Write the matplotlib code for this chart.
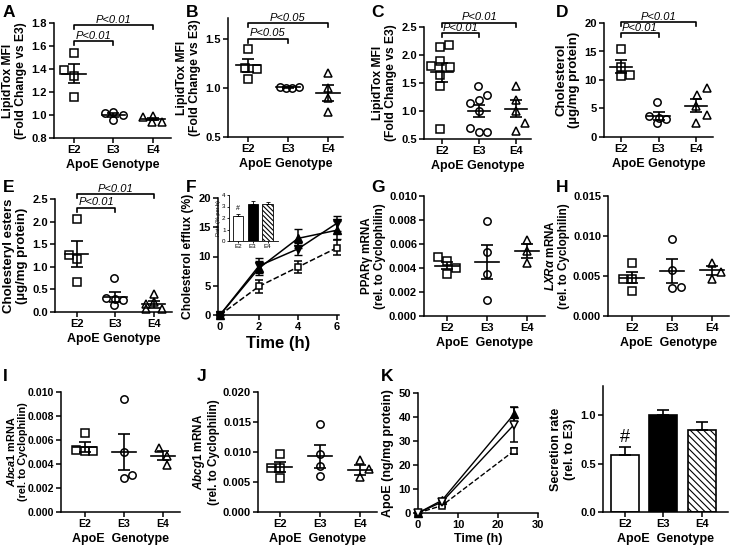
import numpy as np
import matplotlib
matplotlib.use("Agg")
import matplotlib.pyplot as plt

plt.rcParams['font.family'] = ['Liberation Sans', 'DejaVu Sans']
plt.rcParams['font.weight'] = 'bold'
plt.rcParams['axes.labelweight'] = 'bold'
plt.rcParams['mathtext.fontset'] = 'custom'
plt.rcParams['mathtext.rm'] = 'Liberation Sans:bold'
plt.rcParams['mathtext.it'] = 'Liberation Sans:italic'
plt.rcParams['hatch.linewidth'] = 0.8

genotypes = ["E2", "E3", "E4"]

# A - LipidTox MFI
a_e2 = [1.54, 1.39, 1.34, 1.16]
a_e3 = [1.02, 1.03, 0.96, 1.00]
a_e4 = [0.98, 0.99, 0.935, 0.935]
a_mean = [1.36, 1.00, 0.965]
a_sem = [0.08, 0.015, 0.012]

# B - LipidTox MFI
b_e2 = [1.39, 1.20, 1.19, 1.09]
b_e3 = [1.01, 1.00, 1.00, 1.01]
b_e4 = [1.15, 1.00, 0.90, 0.75]
b_mean = [1.23, 1.005, 0.95]
b_sem = [0.065, 0.006, 0.08]

# C - LipidTox MFI
c_e2 = [2.15, 2.17, 1.80, 1.90, 1.78, 1.65, 1.45, 0.67]
c_e3 = [1.44, 1.29, 1.20, 1.15, 1.00, 0.70, 0.63, 0.63]
c_e4 = [1.45, 1.20, 1.00, 0.78, 0.65]
c_mean = [1.69, 1.00, 1.04]
c_sem = [0.165, 0.11, 0.15]

# D - Cholesterol
d_e2 = [15.4, 12.2, 10.7, 10.8]
d_e3 = [6.2, 3.6, 3.4, 3.2, 2.4]
d_e4 = [7.3, 8.6, 5.5, 3.8, 2.5]
d_mean = [12.3, 3.7, 5.5]
d_sem = [1.15, 0.65, 1.15]

# E - Cholesteryl esters
e_e2 = [2.05, 1.27, 1.18, 0.67]
e_e3 = [0.75, 0.30, 0.28, 0.27, 0.15]
e_e4 = [0.40, 0.18, 0.22, 0.07, 0.07]
e_mean = [1.28, 0.34, 0.17]
e_sem = [0.28, 0.11, 0.08]

# F - cholesterol efflux time course
f_time = [0, 2, 4, 6]
f_e2 = [0, 4.9, 8.2, 11.5]
f_e2_err = [0, 1.1, 1.1, 1.3]
f_e3 = [0, 8.0, 13.1, 14.5]
f_e3_err = [0, 1.2, 1.6, 1.5]
f_e4 = [0, 8.4, 11.3, 15.7]
f_e4_err = [0, 1.3, 1.0, 1.3]
f_rate = [2.15, 3.25, 3.2]
f_rate_err = [0.2, 0.25, 0.2]

# G - PPARg
g_e2 = [0.0049, 0.0046, 0.0040, 0.0035]
g_e3 = [0.0079, 0.0053, 0.0035, 0.0013]
g_e4 = [0.0063, 0.0054, 0.0044]
g_mean = [0.0042, 0.0045, 0.0054]
g_sem = [0.0003, 0.0014, 0.0006]

# H - LXRa
h_e2 = [0.0066, 0.0046, 0.0046, 0.0031]
h_e3 = [0.0096, 0.0058, 0.0035, 0.0036]
h_e4 = [0.0066, 0.0055, 0.0046]
h_mean = [0.0048, 0.0056, 0.0057]
h_sem = [0.0007, 0.0015, 0.0006]

# I - Abca1
i_e2 = [0.0066, 0.0052, 0.0051, 0.0051]
i_e3 = [0.0094, 0.0050, 0.0031, 0.0028]
i_e4 = [0.0053, 0.0047, 0.0039]
i_mean = [0.0054, 0.0050, 0.0047]
i_sem = [0.0004, 0.0015, 0.0004]

# J - Abcg1
j_e2 = [0.0096, 0.0074, 0.0074, 0.0057]
j_e3 = [0.0146, 0.0096, 0.0076, 0.0060]
j_e4 = [0.0086, 0.0071, 0.0058]
j_mean = [0.0075, 0.0093, 0.0070]
j_sem = [0.0008, 0.0019, 0.0009]

# K - ApoE secretion time course
k_time = [0, 6, 24]
k_e2 = [0, 3.1, 25.9]
k_e2_err = [0, 0.5, 1.2]
k_e3 = [0, 5.3, 41.2]
k_e3_err = [0, 0.8, 3.0]
k_e4 = [0, 4.6, 36.8]
k_e4_err = [0, 0.8, 7.4]

# L - secretion rate
l_mean = [0.59, 1.0, 0.85]
l_sem = [0.08, 0.05, 0.075]

# horizontal scatter of the dots (layout only)
a_dx = [[0, -0.24, 0, 0], [-0.22, 0, 0, 0.24], [-0.26, 0, -0.04, 0.22]]
b_dx = [[0, -0.08, 0.22, 0], [-0.2, -0.05, 0.1, 0.27], [0, 0, 0, 0]]
c_dx = [[-0.05, 0.18, -0.29, -0.05, 0.2, -0.05, -0.05, -0.05],
        [-0.03, 0.22, 0, -0.24, 0, -0.24, 0, 0.22], [0, 0, 0, 0.23, 0]]
d_dx = [[0, 0, 0, 0.25], [-0.05, -0.25, 0, 0.2, -0.05], [0.03, 0.3, 0, 0.3, 0]]
e_dx = [[0, -0.2, 0, 0], [-0.05, -0.25, 0, 0.2, -0.05], [0, -0.2, 0, -0.2, 0.22]]
g_dx = [[-0.21, 0, 0.23, 0], [0, 0, 0, 0], [0, 0, 0]]
h_dx = [[0, -0.22, 0, 0], [0, 0, 0, 0.22], [0, 0.22, 0]]
i_dx = [[0, -0.22, 0, 0.22], [0, 0, 0.22, 0], [-0.1, 0.1, 0.1]]
j_dx = [[0, -0.22, 0, 0], [0, 0, 0, 0], [0, 0.22, 0]]

W, H = 737, 547
fig = plt.figure(figsize=(W / 100, H / 100), dpi=100)


def add_ax(l, t, r, b):
    return fig.add_axes([l / W, 1 - b / H, (r - l) / W, (b - t) / H])


def style(ax, size=8):
    for s in ['top', 'right']:
        ax.spines[s].set_visible(False)
    for s in ['left', 'bottom']:
        ax.spines[s].set_linewidth(1.1)
    ax.tick_params(direction='out', length=3.5, width=1.1, labelsize=size, pad=1.5)


def dot_panel(ax, groups, dx, means, sems, ylim, yticks, fmt, ylabel, xlabel="ApoE Genotype",
              ysize=8.7, ypad=3, tsize=8):
    markers = ['s', 'o', '^']
    for i, vals in enumerate(groups):
        ax.plot(i + np.array(dx[i]), vals, linestyle='none', marker=markers[i], ms=5.3,
                mfc='none', mec='black', mew=1.1, clip_on=False, zorder=3)
        ax.plot([i - 0.3, i + 0.3], [means[i], means[i]], color='black', lw=1.2, zorder=4)
        ax.errorbar(i, means[i], yerr=sems[i], fmt='none', ecolor='black', elinewidth=1.2,
                    capsize=4.2, capthick=1.2, zorder=4)
    ax.set_ylim(*ylim)
    ax.set_yticks(yticks)
    ax.set_yticklabels([fmt % v for v in yticks])
    ax.set_xticks(range(3))
    ax.set_xticklabels(genotypes)
    ax.set_ylabel(ylabel, fontsize=ysize, labelpad=ypad, linespacing=1.1)
    ax.set_xlabel(xlabel, fontsize=9, labelpad=3)
    style(ax, tsize)


def bracket(ax, x1, x2, y, text):
    y0, y1 = ax.get_ylim()
    hpx = ax.get_position().height * H
    tick = (y1 - y0) * 4 / hpx
    ax.plot([x1, x1, x2, x2], [y - tick, y, y, y - tick], color='black', lw=1.2, clip_on=False)
    ax.annotate(text, xy=((x1 + x2) / 2, y), xytext=(0, 0.3), textcoords='offset points',
                ha='center', va='bottom', fontsize=8, style='italic', weight='normal',
                annotation_clip=False)


def bar_panel(ax, means, sems, width, hatch, capsize, lw):
    colors = ['white', 'black', 'white']
    hatches = ['', '', hatch]
    for i in range(3):
        ax.bar(i, means[i], width=width, color=colors[i], edgecolor='black', linewidth=lw,
               hatch=hatches[i], zorder=2)
        ax.errorbar(i, means[i], yerr=[[0], [sems[i]]], fmt='none', ecolor='black',
                    elinewidth=lw, capsize=capsize, capthick=lw, zorder=3)


# ---- A
ax = add_ax(54, 23, 171, 138)
ax.set_xlim(-0.5, 2.45)
dot_panel(ax, [a_e2, a_e3, a_e4], a_dx, a_mean, a_sem, (0.8, 1.8),
          [0.8, 1.0, 1.2, 1.4, 1.6, 1.8], '%.1f', "LipidTox MFI\n(Fold Change vs E3)")
bracket(ax, 0, 1, 1.64, "P<0.01")
bracket(ax, 0, 2, 1.78, "P<0.01")

# ---- B
ax = add_ax(228, 18, 343, 137)
ax.set_xlim(-0.5, 2.38)
dot_panel(ax, [b_e2, b_e3, b_e4], b_dx, b_mean, b_sem, (0.5, 1.71),
          [0.5, 1.0, 1.5], '%.1f', "LipidTox MFI\n(Fold Change vs E3)")
bracket(ax, 0, 1, 1.50, "P<0.05")
bracket(ax, 0, 2, 1.66, "P<0.05")

# ---- C
ax = add_ax(424, 27, 531, 139)
ax.set_xlim(-0.49, 2.4)
dot_panel(ax, [c_e2, c_e3, c_e4], c_dx, c_mean, c_sem, (0.5, 2.5),
          [0.5, 1.0, 1.5, 2.0, 2.5], '%.1f', "LipidTox MFI\n(Fold Change vs E3)")
bracket(ax, 0, 1, 2.39, "P<0.01")
bracket(ax, 0, 2, 2.58, "P<0.01")

# ---- D
ax = add_ax(604, 23, 713, 137)
ax.set_xlim(-0.45, 2.45)
dot_panel(ax, [d_e2, d_e3, d_e4], d_dx, d_mean, d_sem, (0, 20),
          [0, 5, 10, 15, 20], '%d', "Cholesterol\n(\u00b5g/mg protein)", ysize=9.5)
bracket(ax, 0, 1, 18.2, "P<0.01")
bracket(ax, 0, 2, 20.1, "P<0.01")

# ---- E
ax = add_ax(55, 199, 172, 312)
ax.set_xlim(-0.57, 2.47)
dot_panel(ax, [e_e2, e_e3, e_e4], e_dx, e_mean, e_sem, (0, 2.5),
          [0.0, 0.5, 1.0, 1.5, 2.0, 2.5], '%.1f', "Cholesteryl esters\n(\u00b5g/mg protein)",
          ysize=9.5)
bracket(ax, 0, 1, 2.31, "P<0.01")
bracket(ax, 0, 2, 2.61, "P<0.01")

# ---- F
ax = add_ax(218, 198, 339, 315)
ax.errorbar(f_time, f_e2, yerr=f_e2_err, color='black', lw=1.1, ls='--', marker='s', ms=5,
            mfc='white', mec='black', mew=1.1, capsize=3, elinewidth=1.1, clip_on=False, zorder=3)
ax.errorbar(f_time, f_e3, yerr=f_e3_err, color='black', lw=1.1, marker='^', ms=5.5,
            mfc='black', mec='black', capsize=3, elinewidth=1.1, clip_on=False, zorder=4)
ax.errorbar(f_time, f_e4, yerr=f_e4_err, color='black', lw=1.1, marker='v', ms=5.5,
            mfc='black', mec='black', capsize=3, elinewidth=1.1, clip_on=False, zorder=4)
ax.set_xlim(-0.1, 6.1)
ax.set_ylim(0, 20)
ax.set_xticks([0, 2, 4, 6])
ax.set_yticks([0, 5, 10, 15, 20])
ax.set_xlabel("Time (h)", fontsize=12, labelpad=3)
ax.set_ylabel("Cholesterol efflux (%)", fontsize=8.7, labelpad=3)
style(ax)

# inset of F
ax = add_ax(229, 195, 278, 241)
bar_panel(ax, f_rate, f_rate_err, 0.7, '\\\\\\\\\\\\\\', 1.5, 0.6)
ax.text(0, f_rate[0] + f_rate_err[0] + 0.15, "#", ha='center', va='bottom', fontsize=5, weight='normal')
ax.set_xlim(-0.6, 2.7)
ax.set_ylim(0, 4)
ax.set_yticks([0, 1, 2, 3, 4])
ax.set_xticks(range(3))
ax.set_xticklabels(genotypes)
ax.set_ylabel("Rate (% per h)", fontsize=4, labelpad=1, weight='normal')
for s in ['top', 'right']:
    ax.spines[s].set_visible(False)
for s in ['left', 'bottom']:
    ax.spines[s].set_linewidth(0.6)
ax.tick_params(direction='out', length=1.5, width=0.6, labelsize=4.5, pad=1)
for t in ax.get_xticklabels() + ax.get_yticklabels():
    t.set_fontweight('normal')

# ---- G
ax = add_ax(424, 196, 545, 316)
ax.set_xlim(-0.57, 2.45)
dot_panel(ax, [g_e2, g_e3, g_e4], g_dx, g_mean, g_sem, (0, 0.010),
          [0, 0.002, 0.004, 0.006, 0.008, 0.010], '%.3f',
          "PPAR\u03b3 mRNA\n(rel. to Cyclophilin)", "ApoE  Genotype", ysize=8.4, ypad=2)

# ---- H
ax = add_ax(608, 196, 729, 316)
ax.set_xlim(-0.6, 2.42)
dot_panel(ax, [h_e2, h_e3, h_e4], h_dx, h_mean, h_sem, (0, 0.015),
          [0, 0.005, 0.010, 0.015], '%.3f',
          "$\\mathit{LXR\\alpha}$ mRNA\n(rel. to Cyclophilin)", "ApoE  Genotype", ysize=8.4, ypad=2)

# ---- I
ax = add_ax(61, 392, 180, 512)
ax.set_xlim(-0.6, 2.43)
dot_panel(ax, [i_e2, i_e3, i_e4], i_dx, i_mean, i_sem, (0, 0.010),
          [0, 0.002, 0.004, 0.006, 0.008, 0.010], '%.3f',
          "$\\mathit{Abca1}$ mRNA\n(rel. to Cyclophilin)", "ApoE  Genotype", ysize=7.8, ypad=1.5,
          tsize=7.6)
ax.yaxis.set_label_coords(-0.277, 0.5)

# ---- J
ax = add_ax(258, 392, 377, 512)
ax.set_xlim(-0.55, 2.43)
dot_panel(ax, [j_e2, j_e3, j_e4], j_dx, j_mean, j_sem, (0, 0.020),
          [0, 0.005, 0.010, 0.015, 0.020], '%.3f',
          "$\\mathit{Abcg1}$ mRNA\n(rel. to Cyclophilin)", "ApoE  Genotype", ysize=8.4, ypad=2)

# ---- K
ax = add_ax(418, 393, 538, 513)
ax.errorbar(k_time, k_e2, yerr=k_e2_err, color='black', lw=1.0, ls='--', marker='s', ms=5,
            mfc='white', mec='black', mew=1.1, capsize=3, elinewidth=1.1, clip_on=False, zorder=3)
ax.errorbar(k_time, k_e3, yerr=k_e3_err, color='black', lw=1.0, marker='^', ms=5.5,
            mfc='black', mec='black', capsize=3, elinewidth=1.1, clip_on=False, zorder=4)
ax.errorbar(k_time, k_e4, yerr=k_e4_err, color='black', lw=1.0, marker='v', ms=5.5,
            mfc='white', mec='black', mew=1.1, capsize=3, elinewidth=1.1, clip_on=False, zorder=4)
ax.set_xlim(0, 30)
ax.set_ylim(0, 50)
ax.set_xticks([0, 10, 20, 30])
ax.set_yticks([0, 10, 20, 30, 40, 50])
ax.set_xlabel("Time (h)", fontsize=9, labelpad=2)
ax.set_ylabel("ApoE (ng/mg protein)", fontsize=9, labelpad=3)
style(ax)

# ---- L
ax = add_ax(603, 386, 728, 512)
bar_panel(ax, l_mean, l_sem, 0.73, '\\\\\\\\\\', 4.2, 1.2)
ax.text(0, l_mean[0] + l_sem[0] + 0.01, "#", ha='center', va='bottom', fontsize=13, weight='normal')
ax.set_xlim(-0.57, 2.68)
ax.set_ylim(0, 1.3)
ax.set_yticks([0.0, 0.5, 1.0])
ax.set_yticklabels(['0.0', '0.5', '1.0'])
ax.set_xticks(range(3))
ax.set_xticklabels(genotypes)
ax.set_ylabel("Secretion rate\n(rel. to E3)", fontsize=9, labelpad=3)
ax.set_xlabel("ApoE  Genotype", fontsize=9, labelpad=3)
style(ax)

# panel letters
letters = ["A", "B", "C", "D", "E", "F", "G", "H", "I", "J", "K"]
letter_x = [3, 186, 371, 556, 3, 186, 371, 556, 3, 197, 381]
letter_y = [5, 5, 5, 5, 180, 180, 180, 180, 369, 369, 369]
for s, x, y in zip(letters, letter_x, letter_y):
    fig.text(x / W, 1 - y / H, s, fontsize=12.5, weight='bold', ha='left', va='top')

fig.savefig("out.png", dpi=100)
